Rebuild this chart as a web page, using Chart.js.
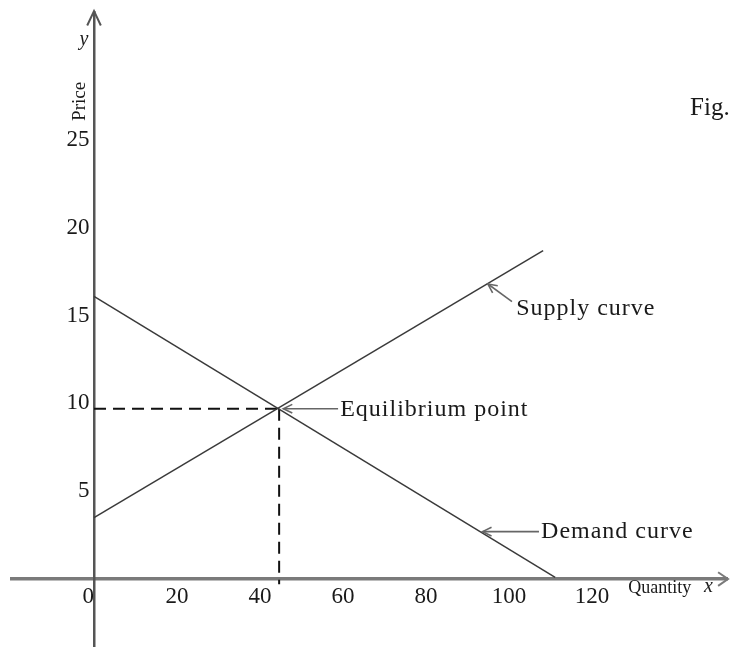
<!DOCTYPE html>
<html lang="en">
  <head>
    <meta charset="UTF-8" />
    <title>Supply and Demand</title>
    <script src="https://cdn.jsdelivr.net/npm/chart.js"></script>
    <style>
      body { margin: 0; background: #fff; }
      canvas { display: block; }
    </style>
  </head>
  <body>
    <canvas id="marketChart" width="731" height="647"></canvas>
    <script>
      // Tick labels
      const quantityTicks = [0, 20, 40, 60, 80, 100, 120];
      const priceTicks = [5, 10, 15, 20, 25];

      // Curves (quantity, price)
      const supplyQuantity = [0, 108.2];
      const supplyPrice = [3.5, 18.7];
      const demandQuantity = [0, 111.1];
      const demandPrice = [16.1, 0.1];

      // Equilibrium point (quantity, price)
      const equilibrium = [44.6, 9.7];

      // Callouts: text, arrow tip on the curve, arrow tail, text start
      const calloutText = ["Supply curve", "Equilibrium point", "Demand curve"];
      const calloutTip = [[94.9, 16.8], [45.6, 9.7], [93.6, 2.7]];
      const calloutTail = [[100.7, 15.8], [58.8, 9.7], [107.2, 2.7]];
      const calloutLabel = [[101.7, 15.4], [59.3, 9.65], [107.7, 2.7]];

      const serif = "'Liberation Serif', 'Times New Roman', serif";
      Chart.defaults.font.family = serif;
      Chart.defaults.color = "#1a1a1a";

      const toPoints = (xs, ys) => xs.map((q, i) => ({ x: q, y: ys[i] }));

      function arrowHead(ctx, tx, ty, angle, len, spread) {
        ctx.beginPath();
        ctx.moveTo(tx - len * Math.cos(angle - spread), ty - len * Math.sin(angle - spread));
        ctx.lineTo(tx, ty);
        ctx.lineTo(tx - len * Math.cos(angle + spread), ty - len * Math.sin(angle + spread));
        ctx.stroke();
      }

      // axes sit on the origin and take no room in the layout
      function noRoom(s) {
        if (s.isHorizontal()) s.height = 0;
        else s.width = 0;
        s.paddingTop = s.paddingBottom = s.paddingLeft = s.paddingRight = 0;
      }

      // draws axis arrowheads, axis names and the callouts
      const figureText = {
        id: "figureText",
        afterDraw(chart) {
          const { ctx, chartArea, scales: { x, y } } = chart;
          const px = (q) => x.getPixelForValue(q);
          const py = (p) => y.getPixelForValue(p);
          ctx.save();

          // axis arrowheads
          ctx.strokeStyle = "#555";
          ctx.lineWidth = 2;
          arrowHead(ctx, px(0), chartArea.top - 1, -Math.PI / 2, 16, 0.44);
          ctx.strokeStyle = "#7a7a7a";
          arrowHead(ctx, chartArea.right + 1, py(0), 0, 12, 0.6);

          // callout arrows
          ctx.strokeStyle = "#666";
          ctx.lineWidth = 1.6;
          calloutTip.forEach((tip, i) => {
            const tx = px(tip[0]), ty = py(tip[1]);
            const sx = px(calloutTail[i][0]), sy = py(calloutTail[i][1]);
            ctx.beginPath();
            ctx.moveTo(sx, sy);
            ctx.lineTo(tx, ty);
            ctx.stroke();
            arrowHead(ctx, tx, ty, Math.atan2(ty - sy, tx - sx), 10, 0.45);
          });

          ctx.fillStyle = "#1a1a1a";
          ctx.textBaseline = "middle";
          ctx.textAlign = "left";
          ctx.font = "24px " + serif;
          ctx.letterSpacing = "1px";
          calloutText.forEach((t, i) => {
            ctx.fillText(t, px(calloutLabel[i][0]), py(calloutLabel[i][1]));
          });
          ctx.letterSpacing = "0px";

          ctx.font = "25px " + serif;
          ctx.fillText("Fig.", px(143.6), py(26.8));

          ctx.font = "18px " + serif;
          ctx.fillText("Quantity", px(128.7), py(-0.55));
          ctx.font = "italic 20px " + serif;
          ctx.textAlign = "center";
          ctx.fillText("x", px(148), py(-0.45));
          ctx.fillText("y", px(-2.4), py(30.7));

          ctx.font = "19px " + serif;
          ctx.translate(px(-3.4), py(27.2));
          ctx.rotate(-Math.PI / 2);
          ctx.fillText("Price", 0, 0);
          ctx.restore();
        },
      };

      new Chart(document.getElementById("marketChart"), {
        type: "scatter",
        data: {
          datasets: [
            {
              label: "Supply curve",
              data: toPoints(supplyQuantity, supplyPrice),
              borderColor: "#3a3a3a",
              borderWidth: 1.5,
            },
            {
              label: "Demand curve",
              data: toPoints(demandQuantity, demandPrice),
              borderColor: "#3a3a3a",
              borderWidth: 1.5,
            },
            {
              label: "Equilibrium price",
              data: [{ x: 0, y: equilibrium[1] }, { x: equilibrium[0], y: equilibrium[1] }],
              borderColor: "#111",
              borderWidth: 2,
              borderDash: [12, 7],
            },
            {
              label: "Equilibrium quantity",
              data: [{ x: equilibrium[0], y: equilibrium[1] }, { x: equilibrium[0], y: -0.3 }],
              borderColor: "#111",
              borderWidth: 2,
              borderDash: [12, 7],
            },
          ],
        },
        options: {
          responsive: false,
          animation: false,
          devicePixelRatio: 1,
          showLine: true,
          elements: { point: { radius: 0, hoverRadius: 0 } },
          layout: { padding: { left: 12, top: 12, right: 4, bottom: 0 } },
          plugins: { legend: { display: false }, tooltip: { enabled: false } },
          scales: {
            x: {
              type: "linear",
              position: { y: 0 },
              min: -19.76,
              max: 152.5,
              afterFit: noRoom,
              afterBuildTicks: (s) => { s.ticks = quantityTicks.map((v) => ({ value: v })); },
              grid: { display: false, drawTicks: false },
              border: { display: true, color: "#7a7a7a", width: 3.5 },
              ticks: {
                padding: 4,
                font: { size: 23 },
                color: "#1a1a1a",
                maxRotation: 0,
                autoSkip: false,
                callback: (v) => (v === 0 ? "0\u2002" : String(v)),
              },
            },
            y: {
              type: "linear",
              position: { x: 0 },
              min: -3.87,
              max: 32.29,
              afterFit: noRoom,
              afterBuildTicks: (s) => { s.ticks = priceTicks.map((v) => ({ value: v })); },
              grid: { display: false, drawTicks: false },
              border: { display: true, color: "#555", width: 2.5 },
              ticks: {
                padding: 4,
                font: { size: 23 },
                color: "#1a1a1a",
                autoSkip: false,
                callback: (v) => v + "\u2009",
              },
            },
          },
        },
        plugins: [figureText],
      });
    </script>
  </body>
</html>
